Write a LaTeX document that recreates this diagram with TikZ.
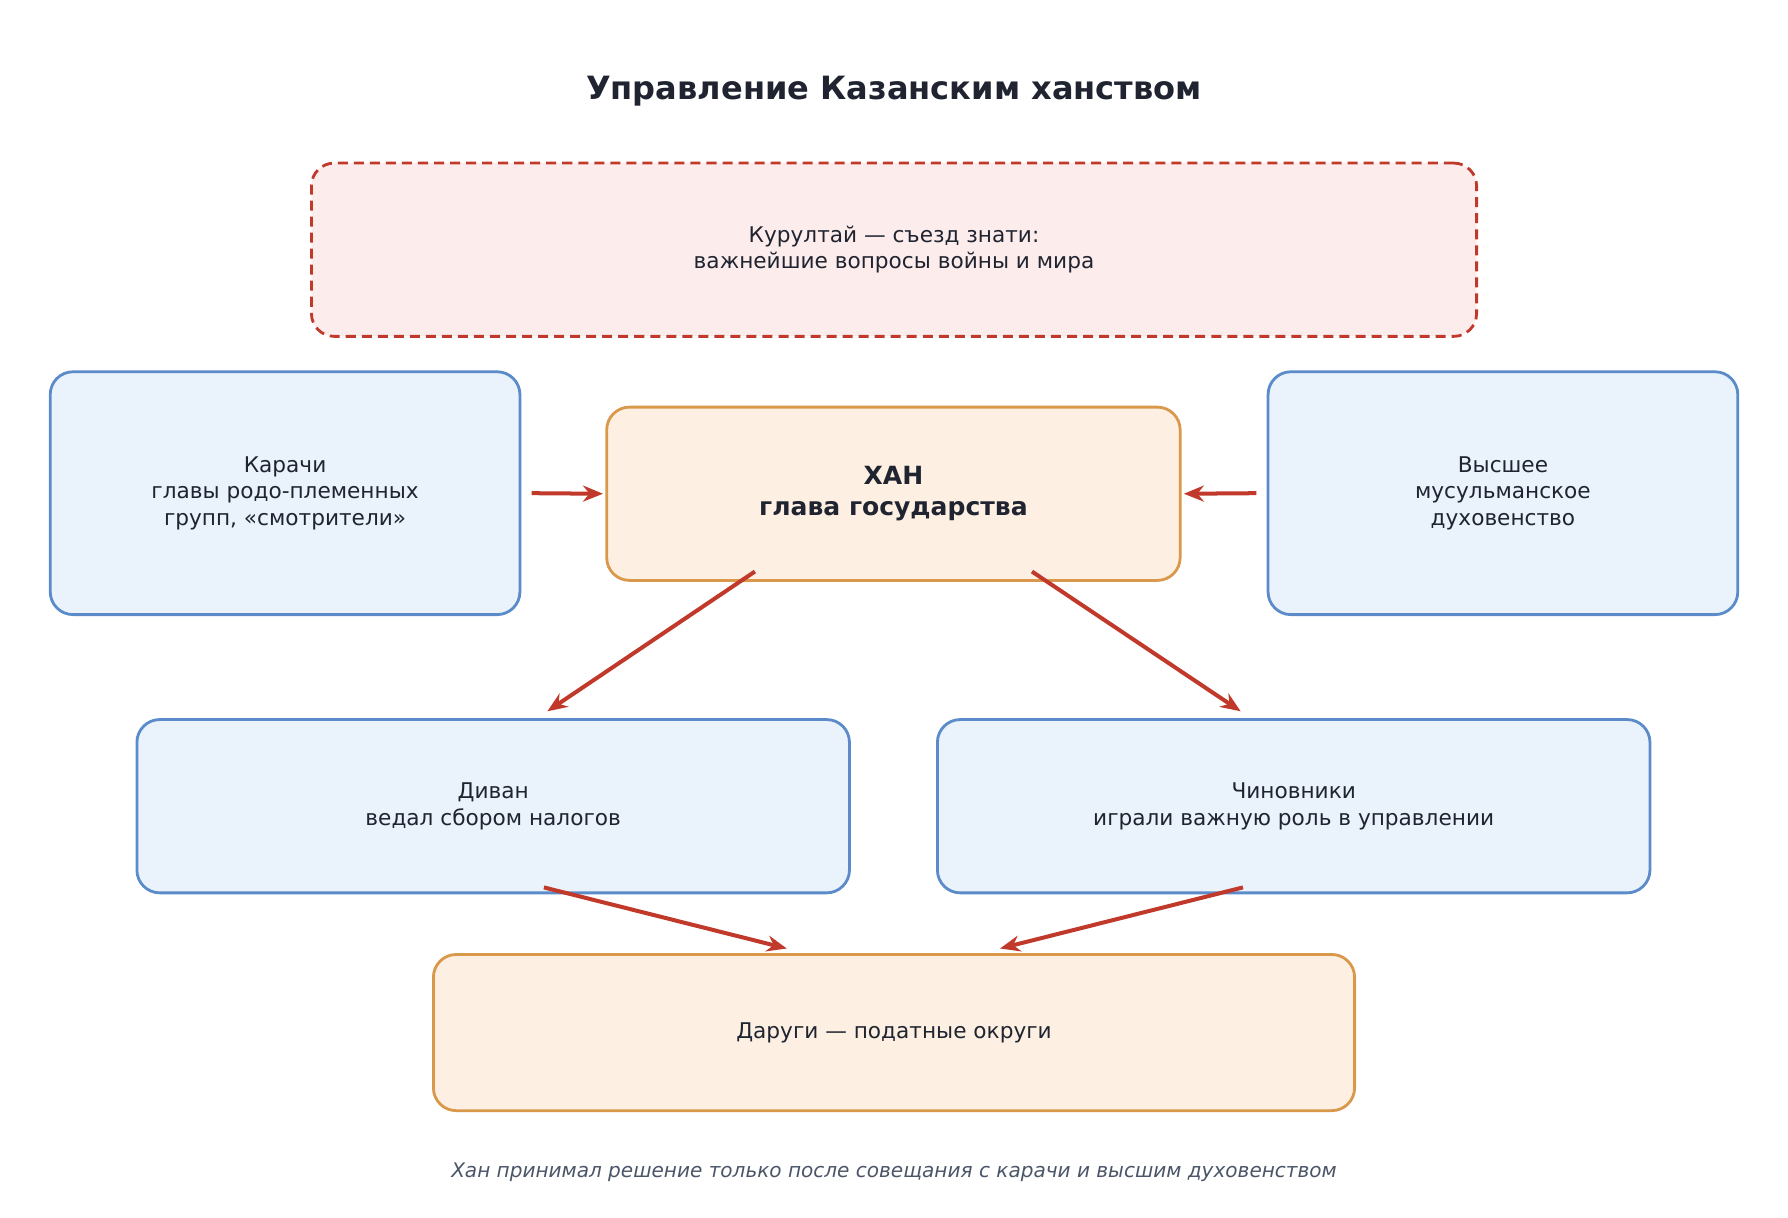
\documentclass[tikz,border=0pt]{standalone}
\usepackage{fontspec}
\setmainfont{DejaVu Sans}
\usetikzlibrary{calc,arrows.meta}
\definecolor{txt}{HTML}{1F2430}
\definecolor{bluebd}{HTML}{5B8BC9}
\definecolor{bluefl}{HTML}{EAF2FC}
\definecolor{orbd}{HTML}{D9984A}
\definecolor{orfl}{HTML}{FDF0E3}
\definecolor{redbd}{HTML}{C0392B}
\definecolor{redfl}{HTML}{FDECEC}
\definecolor{note}{HTML}{4A5568}
\tikzset{
  box/.style={draw, rounded corners=0.4cm, line width=1.4pt, align=center,
    text=txt, inner sep=0pt, font=\fontsize{10.8}{13.2}\selectfont},
  bluebox/.style={box, draw=bluebd, fill=bluefl},
  orbox/.style={box, draw=orbd, fill=orfl},
  redbox/.style={box, draw=redbd, fill=redfl, dashed, dash pattern=on 5pt off 3pt},
  link/.style={draw=redbd, line width=2pt, -{Stealth[length=10pt,width=8pt]}}
}
\begin{document}
\begin{tikzpicture}[x=0.02cm, y=-0.02cm]
\useasboundingbox (0,0) rectangle (1568,1068);
\node[font=\fontsize{16}{19}\selectfont\bfseries, text=txt] (title) at (784,80) {Управление Казанским ханством};
\node[redbox, minimum width=20.44cm, minimum height=3.04cm] (kurultai) at (784,219)
  {Курултай — съезд знати:\\важнейшие вопросы войны и мира};
\node[bluebox, minimum width=8.24cm, minimum height=4.26cm] (karachi) at (250,432.5)
  {Карачи\\главы родо-племенных\\групп, «смотрители»};
\node[orbox, minimum width=10.06cm, minimum height=3.04cm, font=\fontsize{12.5}{15.5}\selectfont\bfseries] (khan) at (783.5,433)
  {ХАН\\глава государства};
\node[bluebox, minimum width=8.24cm, minimum height=4.26cm] (clergy) at (1318,432.5)
  {Высшее\\мусульманское\\духовенство};
\node[bluebox, minimum width=12.5cm, minimum height=3.04cm] (divan) at (432.5,707)
  {Диван\\ведал сбором налогов};
\node[bluebox, minimum width=12.5cm, minimum height=3.04cm] (officials) at (1134.5,707)
  {Чиновники\\играли важную роль в управлении};
\node[orbox, minimum width=16.16cm, minimum height=2.74cm] (darugi) at (784,905.5)
  {Даруги — податные округи};
\node[font=\fontsize{10}{12}\selectfont\itshape, text=note] (footnote) at (784,1028)
  {Хан принимал решение только после совещания с карачи и высшим духовенством};
% arrows
\draw[link] ($(karachi.east)+(9,0)$) -- ($(khan.west)+(-2,0)$);
\draw[link] ($(clergy.west)+(-9,0)$) -- ($(khan.east)+(2,0)$);
\draw[link] ($(khan.south)+(-121.5,-9)$) -- ($(divan.north)+(47.5,-6)$);
\draw[link] ($(khan.south)+(121.5,-9)$) -- ($(officials.north)+(-46.5,-6)$);
\draw[link] ($(divan.south)+(44.5,-6)$) -- ($(darugi.north)+(-94,-4)$);
\draw[link] ($(officials.south)+(-44.5,-6)$) -- ($(darugi.north)+(93,-4)$);
\end{tikzpicture}
\end{document}
